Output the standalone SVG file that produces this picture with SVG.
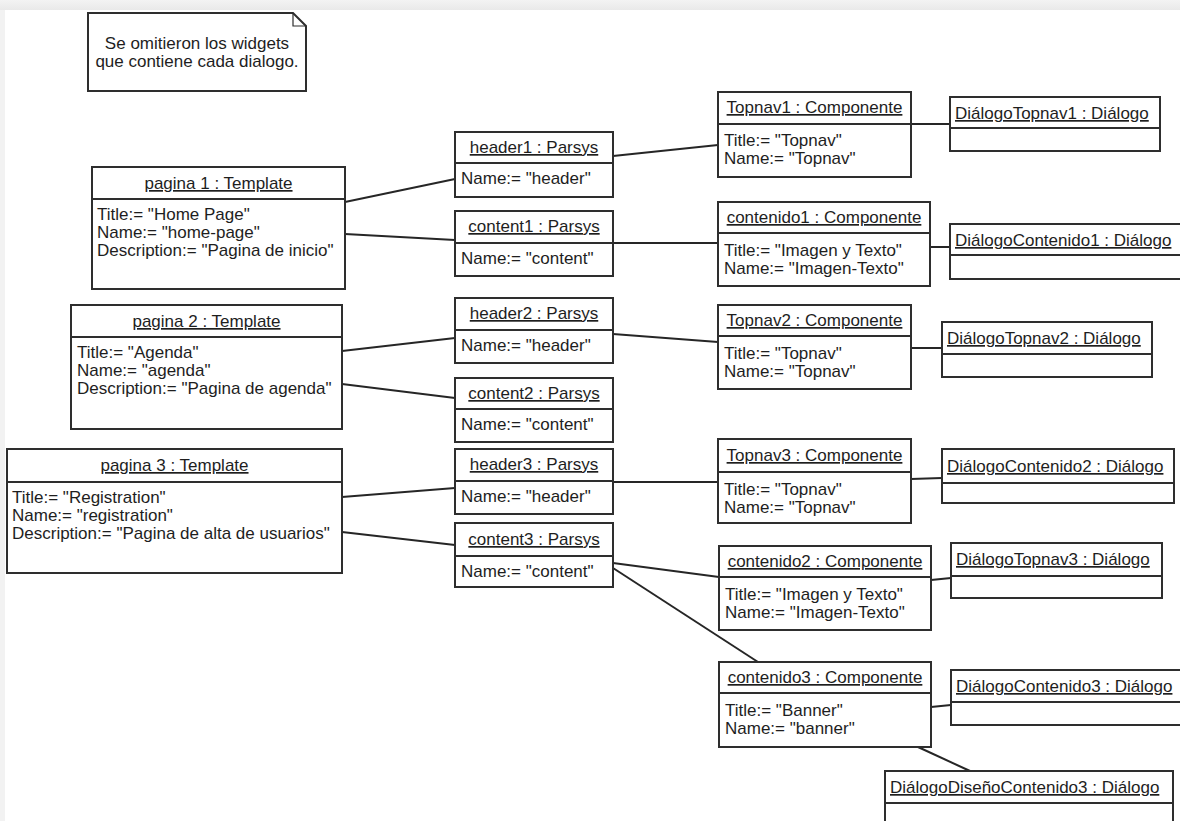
<svg xmlns="http://www.w3.org/2000/svg" width="1180" height="821" viewBox="0 0 1180 821">
  <defs>
    <linearGradient id="topShade" x1="0" y1="0" x2="0" y2="1">
      <stop offset="0" stop-color="#f3f3f3"/>
      <stop offset="1" stop-color="#e9e9e9"/>
    </linearGradient>
    <style>
      .box { fill: #ffffff; stroke: #2e2e2e; stroke-width: 2; }
      .sep { stroke: #2e2e2e; stroke-width: 2; }
      .link { stroke: #262626; stroke-width: 2; fill: none; }
      text { font-family: "Liberation Sans", Arial, sans-serif; font-size: 17px; fill: #1e1e1e; }
      .name { text-anchor: middle; text-decoration: underline; }
      .dlg { text-decoration: underline; }
      .note-t { text-anchor: middle; }
    </style>
  </defs>

  <!-- page background -->
  <rect x="0" y="0" width="1180" height="821" fill="#f2f2f2"/>
  <rect x="0" y="0" width="1180" height="10" fill="url(#topShade)"/>
  <rect x="5" y="10" width="1175" height="811" fill="#ffffff"/>

  <!-- associations -->
  <g id="connectors">
    <line class="link" x1="345" y1="202" x2="455" y2="179"/>
    <line class="link" x1="345" y1="234" x2="455" y2="240"/>
    <line class="link" x1="613" y1="156" x2="718" y2="145"/>
    <line class="link" x1="613" y1="243" x2="718" y2="243"/>
    <line class="link" x1="911" y1="124" x2="950" y2="124"/>
    <line class="link" x1="930" y1="247" x2="950" y2="247"/>
    <line class="link" x1="342" y1="351" x2="455" y2="338"/>
    <line class="link" x1="342" y1="384" x2="455" y2="398"/>
    <line class="link" x1="613" y1="334" x2="718" y2="342"/>
    <line class="link" x1="911" y1="348" x2="942" y2="348"/>
    <line class="link" x1="342" y1="497" x2="455" y2="488"/>
    <line class="link" x1="342" y1="532" x2="455" y2="545"/>
    <line class="link" x1="613" y1="482" x2="718" y2="482"/>
    <line class="link" x1="911" y1="479" x2="942" y2="478"/>
    <line class="link" x1="613" y1="563" x2="719" y2="577"/>
    <line class="link" x1="613" y1="568" x2="758" y2="662"/>
    <line class="link" x1="931" y1="580" x2="951" y2="578"/>
    <line class="link" x1="931" y1="707" x2="951" y2="705"/>
    <line class="link" x1="918" y1="747" x2="970" y2="771"/>
  </g>

  <!-- note -->
  <g id="note">
    <path class="box" d="M88,13 H293 L306,26 V91 H88 Z"/>
    <path d="M293,13 V26 H306" fill="none" stroke="#2e2e2e" stroke-width="1.2"/>
    <text class="note-t" x="197" y="49">Se omitieron los widgets</text>
    <text class="note-t" x="197" y="67">que contiene cada dialogo.</text>
  </g>

  <!-- templates -->
  <g id="pagina1">
    <rect class="box" x="92" y="167" width="253" height="122"/>
    <line class="sep" x1="92" y1="199" x2="345" y2="199"/>
    <text class="name" x="218.5" y="189">pagina 1 : Template</text>
    <text x="97" y="220">Title:= "Home Page"</text>
    <text x="97" y="238">Name:= "home-page"</text>
    <text x="97" y="256">Description:= "Pagina de inicio"</text>
  </g>
  <g id="pagina2">
    <rect class="box" x="71" y="305" width="271" height="124"/>
    <line class="sep" x1="71" y1="337" x2="342" y2="337"/>
    <text class="name" x="206.5" y="327">pagina 2 : Template</text>
    <text x="77" y="358">Title:= "Agenda"</text>
    <text x="77" y="376">Name:= "agenda"</text>
    <text x="77" y="394">Description:= "Pagina de agenda"</text>
  </g>
  <g id="pagina3">
    <rect class="box" x="7" y="449" width="335" height="124"/>
    <line class="sep" x1="7" y1="482" x2="342" y2="482"/>
    <text class="name" x="174.5" y="471">pagina 3 : Template</text>
    <text x="12" y="503">Title:= "Registration"</text>
    <text x="12" y="521">Name:= "registration"</text>
    <text x="12" y="539">Description:= "Pagina de alta de usuarios"</text>
  </g>

  <!-- paragraph systems -->
  <g id="header1">
    <rect class="box" x="455" y="132" width="158" height="65"/>
    <line class="sep" x1="455" y1="163" x2="613" y2="163"/>
    <text class="name" x="534" y="153">header1 : Parsys</text>
    <text x="461" y="184">Name:= "header"</text>
  </g>
  <g id="content1">
    <rect class="box" x="455" y="211" width="158" height="65"/>
    <line class="sep" x1="455" y1="243" x2="613" y2="243"/>
    <text class="name" x="534" y="232">content1 : Parsys</text>
    <text x="461" y="264">Name:= "content"</text>
  </g>
  <g id="header2">
    <rect class="box" x="455" y="298" width="158" height="65"/>
    <line class="sep" x1="455" y1="330" x2="613" y2="330"/>
    <text class="name" x="534" y="319">header2 : Parsys</text>
    <text x="461" y="351">Name:= "header"</text>
  </g>
  <g id="content2">
    <rect class="box" x="455" y="378" width="158" height="64"/>
    <line class="sep" x1="455" y1="409" x2="613" y2="409"/>
    <text class="name" x="534" y="399">content2 : Parsys</text>
    <text x="461" y="430">Name:= "content"</text>
  </g>
  <g id="header3">
    <rect class="box" x="455" y="449" width="158" height="65"/>
    <line class="sep" x1="455" y1="481" x2="613" y2="481"/>
    <text class="name" x="534" y="470">header3 : Parsys</text>
    <text x="461" y="502">Name:= "header"</text>
  </g>
  <g id="content3">
    <rect class="box" x="455" y="523" width="158" height="64"/>
    <line class="sep" x1="455" y1="556" x2="613" y2="556"/>
    <text class="name" x="534" y="545">content3 : Parsys</text>
    <text x="461" y="577">Name:= "content"</text>
  </g>

  <!-- components -->
  <g id="topnav1">
    <rect class="box" x="718" y="92" width="193" height="85"/>
    <line class="sep" x1="718" y1="124" x2="911" y2="124"/>
    <text class="name" x="814.5" y="113">Topnav1 : Componente</text>
    <text x="724" y="146">Title:= "Topnav"</text>
    <text x="724" y="164">Name:= "Topnav"</text>
  </g>
  <g id="contenido1">
    <rect class="box" x="718" y="202" width="212" height="84"/>
    <line class="sep" x1="718" y1="233" x2="930" y2="233"/>
    <text class="name" x="824" y="223">contenido1 : Componente</text>
    <text x="724" y="256">Title:= "Imagen y Texto"</text>
    <text x="724" y="274">Name:= "Imagen-Texto"</text>
  </g>
  <g id="topnav2">
    <rect class="box" x="718" y="305" width="193" height="84"/>
    <line class="sep" x1="718" y1="336" x2="911" y2="336"/>
    <text class="name" x="814.5" y="326">Topnav2 : Componente</text>
    <text x="724" y="359">Title:= "Topnav"</text>
    <text x="724" y="377">Name:= "Topnav"</text>
  </g>
  <g id="topnav3">
    <rect class="box" x="718" y="439" width="193" height="84"/>
    <line class="sep" x1="718" y1="472" x2="911" y2="472"/>
    <text class="name" x="814.5" y="461">Topnav3 : Componente</text>
    <text x="724" y="495">Title:= "Topnav"</text>
    <text x="724" y="513">Name:= "Topnav"</text>
  </g>
  <g id="contenido2">
    <rect class="box" x="719" y="546" width="212" height="84"/>
    <line class="sep" x1="719" y1="577" x2="931" y2="577"/>
    <text class="name" x="825" y="567">contenido2 : Componente</text>
    <text x="725" y="600">Title:= "Imagen y Texto"</text>
    <text x="725" y="618">Name:= "Imagen-Texto"</text>
  </g>
  <g id="contenido3">
    <rect class="box" x="719" y="662" width="212" height="85"/>
    <line class="sep" x1="719" y1="693" x2="931" y2="693"/>
    <text class="name" x="825" y="683">contenido3 : Componente</text>
    <text x="725" y="716">Title:= "Banner"</text>
    <text x="725" y="734">Name:= "banner"</text>
  </g>

  <!-- dialogs -->
  <g id="dlgTopnav1">
    <rect class="box" x="950" y="97" width="210" height="54"/>
    <line class="sep" x1="950" y1="128" x2="1160" y2="128"/>
    <text class="dlg" x="955" y="119">DiálogoTopnav1 : Diálogo</text>
  </g>
  <g id="dlgContenido1">
    <rect class="box" x="950" y="224" width="240" height="55"/>
    <line class="sep" x1="950" y1="255" x2="1190" y2="255"/>
    <text class="dlg" x="955" y="246">DiálogoContenido1 : Diálogo</text>
  </g>
  <g id="dlgTopnav2">
    <rect class="box" x="942" y="322" width="210" height="55"/>
    <line class="sep" x1="942" y1="354" x2="1152" y2="354"/>
    <text class="dlg" x="947" y="344">DiálogoTopnav2 : Diálogo</text>
  </g>
  <g id="dlgContenido2">
    <rect class="box" x="942" y="449" width="232" height="54"/>
    <line class="sep" x1="942" y1="483" x2="1174" y2="483"/>
    <text class="dlg" x="947" y="472">DiálogoContenido2 : Diálogo</text>
  </g>
  <g id="dlgTopnav3">
    <rect class="box" x="951" y="543" width="211" height="55"/>
    <line class="sep" x1="951" y1="576" x2="1162" y2="576"/>
    <text class="dlg" x="956" y="565">DiálogoTopnav3 : Diálogo</text>
  </g>
  <g id="dlgContenido3">
    <rect class="box" x="951" y="670" width="240" height="55"/>
    <line class="sep" x1="951" y1="702" x2="1191" y2="702"/>
    <text class="dlg" x="956" y="692">DiálogoContenido3 : Diálogo</text>
  </g>
  <g id="dlgDisenoContenido3">
    <rect class="box" x="885" y="771" width="288" height="70"/>
    <line class="sep" x1="885" y1="803" x2="1173" y2="803"/>
    <text class="dlg" x="890" y="793">DiálogoDiseñoContenido3 : Diálogo</text>
  </g>
</svg>
